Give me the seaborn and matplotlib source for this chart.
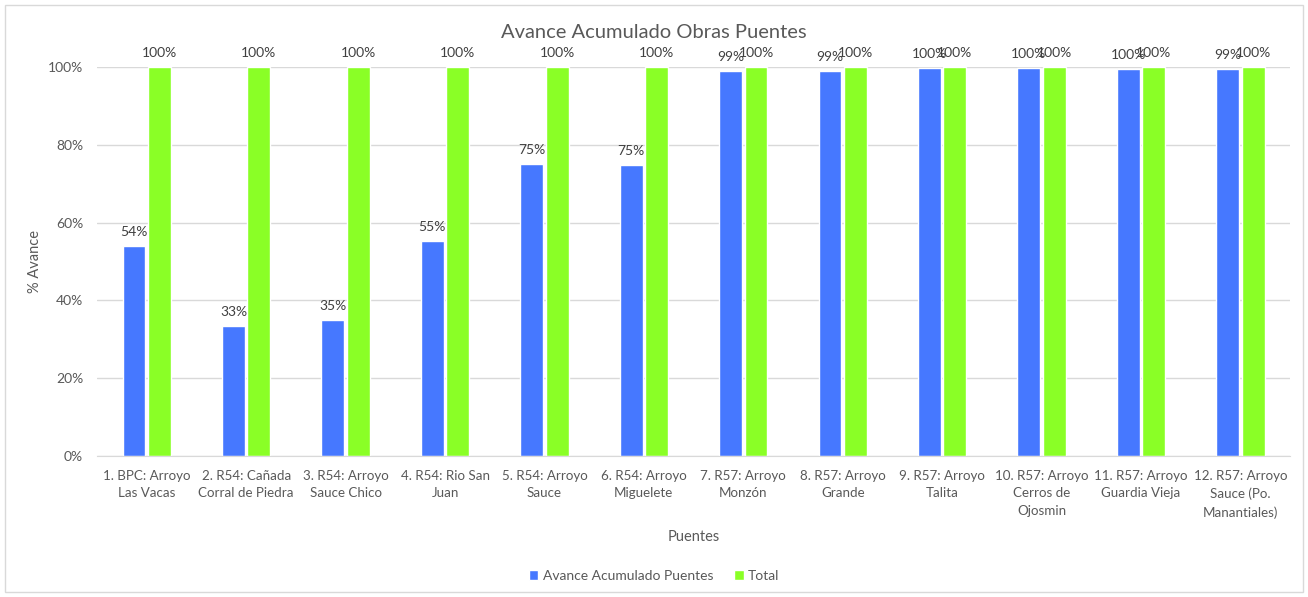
import matplotlib
matplotlib.use('Agg')
import matplotlib.pyplot as plt
import matplotlib.patches as patches
import pandas as pd
import seaborn as sns

# Data
puentes = ['1. BPC: Arroyo\nLas Vacas', '2. R54: Cañada\nCorral de Piedra', '3. R54: Arroyo\nSauce Chico',
           '4. R54: Rio San\nJuan', '5. R54: Arroyo\nSauce', '6. R54: Arroyo\nMiguelete',
           '7. R57: Arroyo\nMonzón', '8. R57: Arroyo\nGrande', '9. R57: Arroyo\nTalita',
           '10. R57: Arroyo\nCerros de\nOjosmin', '11. R57: Arroyo\nGuardia Vieja',
           '12. R57: Arroyo\nSauce (Po.\nManantiales)']
avance = [54.0, 33.4, 35.0, 55.3, 75.1, 74.8, 99.0, 99.0, 99.7, 99.7, 99.5, 99.4]
total = [100] * 12
series = ['Avance Acumulado Puentes', 'Total']
colores = ['#4678FF', '#8AFF26']

df = pd.DataFrame({
    'Puentes': puentes * 2,
    'valor': avance + total,
    'serie': [series[0]] * 12 + [series[1]] * 12,
})

sns.set_style('white')
plt.rcParams['font.family'] = ['Lato', 'DejaVu Sans']

fig = plt.figure(figsize=(13.08, 5.97), dpi=100)
ax = fig.add_axes([0.0742, 0.2362, 0.9121, 0.6516])

sns.barplot(data=df, x='Puentes', y='valor', hue='serie', palette=colores,
            width=0.512, gap=0.1, ax=ax, saturation=1, legend=True)

# Data labels
for cont in ax.containers:
    ax.bar_label(cont, labels=[f'{round(v.get_height()):.0f}%' for v in cont],
                 padding=6, fontsize=10, color='#404040')

ax.set_ylim(0, 100)
ax.set_yticks([0, 20, 40, 60, 80, 100])
ax.set_yticklabels([f'{t}%' for t in [0, 20, 40, 60, 80, 100]], fontsize=10, color='#595959')
ax.set_xticks(range(len(puentes)))
ax.set_xticklabels(puentes, linespacing=1.55)
ax.tick_params(axis='x', labelsize=9.6, labelcolor='#595959', length=0, pad=10)
ax.tick_params(axis='y', length=0, pad=10)
ax.yaxis.grid(True, color='#D9D9D9', linewidth=1)
ax.set_axisbelow(True)
for s in ['top', 'right', 'left']:
    ax.spines[s].set_visible(False)
ax.spines['bottom'].set_color('#D9D9D9')
ax.set_xlim(-0.5, 11.5)

ax.set_xlabel('Puentes', fontsize=10.5, color='#595959', labelpad=8)
ax.set_ylabel('% Avance', fontsize=10.5, color='#595959', labelpad=4)
fig.text(0.5, 0.945, 'Avance Acumulado Obras Puentes', ha='center', va='center',
         fontsize=14.5, color='#595959')

ax.legend(loc='center', bbox_to_anchor=(0.5, 0.035), bbox_transform=fig.transFigure,
          ncol=2, frameon=False, fontsize=10, handlelength=0.7, handleheight=0.7,
          columnspacing=1.5, handletextpad=0.3, labelcolor='#595959')

# Outer chart border
fig.patches.append(patches.Rectangle((0.004, 0.008), 0.992, 0.984, transform=fig.transFigure,
                                     fill=False, edgecolor='#D9D9D9', linewidth=1))

plt.savefig('out.png', dpi=100)
